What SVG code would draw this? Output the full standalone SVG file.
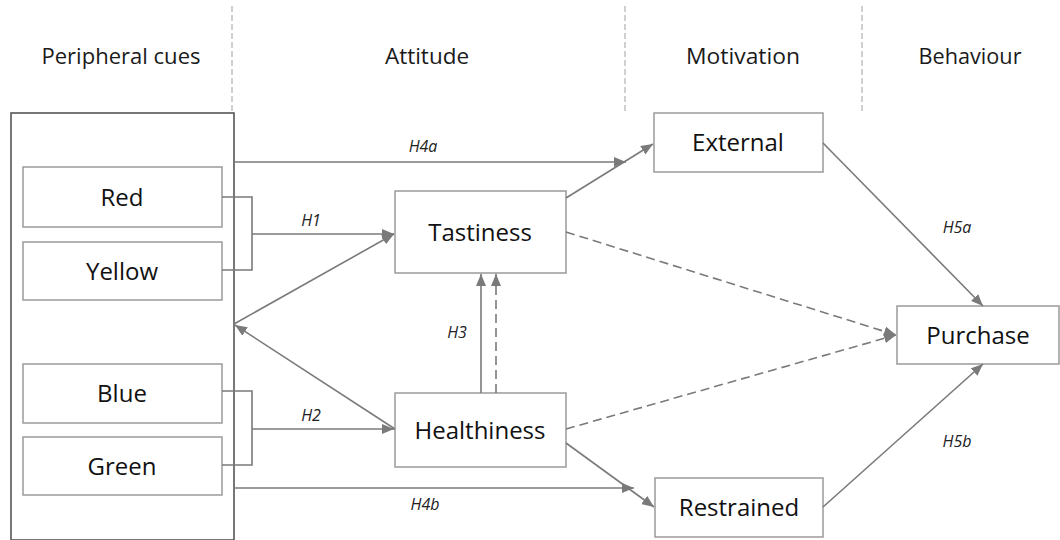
<svg xmlns="http://www.w3.org/2000/svg" width="1060" height="540" viewBox="0 0 1060 540">
<defs>
<marker id="ah" markerUnits="userSpaceOnUse" markerWidth="12" markerHeight="10" viewBox="0 0 12 10" refX="12" refY="5" orient="auto">
<path d="M0,0 L12,5 L0,10 Z" fill="#7a7a7a"/>
</marker>
<style>
.hdr{font-family:"Open Sans","Liberation Sans",sans-serif;font-size:21px;fill:#1a1a1a;text-anchor:middle}
.lbl{font-family:"Open Sans","Liberation Sans",sans-serif;font-size:24px;fill:#111;text-anchor:middle}
.hyp{font-family:"Open Sans","Liberation Sans",sans-serif;font-size:16px;font-style:italic;fill:#222;text-anchor:middle}
.box{fill:#fff;stroke:#9a9a9a;stroke-width:1.5}
.div{stroke:#b0b0b0;stroke-width:1.2;stroke-dasharray:6,3;fill:none}
.c{stroke:#7a7a7a;stroke-width:1.6;fill:none}
.a{marker-end:url(#ah)}
.d{stroke-dasharray:9,5}
</style>
</defs>
<rect width="1060" height="540" fill="#fff"/>
<g id="dividers">
<line class="div" x1="232" y1="6" x2="232" y2="111"/>
<line class="div" x1="625" y1="6" x2="625" y2="111"/>
<line class="div" x1="862" y1="6" x2="862" y2="111"/>
</g>
<g id="headers">
<text class="hdr" x="121" y="64" textLength="159" lengthAdjust="spacingAndGlyphs">Peripheral cues</text>
<text class="hdr" x="427" y="64" textLength="84" lengthAdjust="spacingAndGlyphs">Attitude</text>
<text class="hdr" x="743" y="64" textLength="114" lengthAdjust="spacingAndGlyphs">Motivation</text>
<text class="hdr" x="970" y="64" textLength="103" lengthAdjust="spacingAndGlyphs">Behaviour</text>
</g>
<g id="peripheral-cues">
<rect x="11" y="113" width="223" height="427" fill="none" stroke="#555" stroke-width="1.6"/>
</g>
<g id="red"><rect class="box" x="23" y="167" width="199" height="60"/><text class="lbl" x="122" y="206">Red</text></g>
<g id="yellow"><rect class="box" x="23" y="242" width="199" height="58"/><text class="lbl" x="122" y="280">Yellow</text></g>
<g id="blue"><rect class="box" x="23" y="364" width="199" height="59"/><text class="lbl" x="122" y="402">Blue</text></g>
<g id="green"><rect class="box" x="23" y="437" width="199" height="58"/><text class="lbl" x="122" y="475">Green</text></g>
<g id="tastiness"><rect class="box" x="395" y="191" width="171" height="82"/><text class="lbl" x="480" y="241">Tastiness</text></g>
<g id="healthiness"><rect class="box" x="395" y="393" width="171" height="74"/><text class="lbl" x="480" y="439">Healthiness</text></g>
<g id="external"><rect class="box" x="654" y="113" width="169" height="59"/><text class="lbl" x="738" y="151">External</text></g>
<g id="restrained"><rect class="box" x="655" y="478" width="168" height="59"/><text class="lbl" x="739" y="516">Restrained</text></g>
<g id="purchase"><rect class="box" x="897" y="306" width="162" height="58"/><text class="lbl" x="978" y="344">Purchase</text></g>
<g id="connectors">
<path class="c" d="M222,197 H252 V270 H222"/>
<path class="c a" d="M252,234 H394"/>
<path class="c" d="M222,391 H252 V465 H222"/>
<path class="c a" d="M252,429 H394"/>
<path class="c a" d="M234,324 L394,234"/>
<path class="c a" d="M395,429 L235,325"/>
<path class="c a" d="M234,162 H626"/>
<path class="c a" d="M566,198 L653,144"/>
<path class="c d a" d="M566,232 L896,335"/>
<path class="c d a" d="M566,429 L896,335"/>
<path class="c a" d="M481,393 V274"/>
<path class="c d a" d="M496,393 V274"/>
<path class="c a" d="M566,443 L654,507"/>
<path class="c a" d="M234,488 H634"/>
<path class="c a" d="M823,143 L983,306"/>
<path class="c a" d="M823,507 L983,364"/>
</g>
<g id="hypothesis-labels">
<text class="hyp" x="311" y="226">H1</text>
<text class="hyp" x="311" y="421">H2</text>
<text class="hyp" x="457" y="338">H3</text>
<text class="hyp" x="423" y="152">H4a</text>
<text class="hyp" x="425" y="510">H4b</text>
<text class="hyp" x="957" y="233">H5a</text>
<text class="hyp" x="957" y="447">H5b</text>
</g>
</svg>
